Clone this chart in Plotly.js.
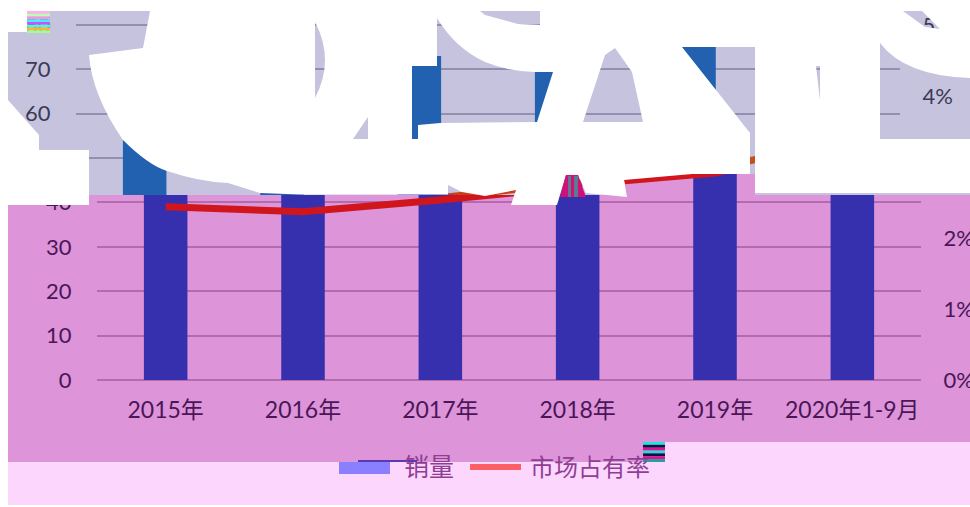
<!DOCTYPE html>
<html><head><meta charset="utf-8">
<script src="https://cdn.plot.ly/plotly-3.0.1.min.js"></script>
<style>html,body{margin:0;padding:0;background:#fff}#c{width:970px;height:507px}</style>
</head><body><div id="c"></div>
<script>
// ---- data ----
var categories = ['2015年','2016年','2017年','2018年','2019年','2020年1-9月'];
var salesValues = [60, 58, 73, 72, 80, 60];          // 销量 (left axis, partly hidden in the reference)
var shareValues = [2.44, 2.37, 2.535, 2.75, 2.915, 3.34]; // 市场占有率, %
var leftTicks = [0,10,20,30,40,50,60,70,80];
var rightTicks = [0,1,2,3,4,5];
var rightTickLabels = ['0%','1%','2%','3%','4%','5%'];
var seriesNames = ['销量','市场占有率'];

// ---- page geometry (pixels in the 970x507 frame) ----
var W=970,H=507,FONT='Lato, "Noto Sans CJK SC", sans-serif';
var L=97,R=921,Y0=380,PXV=4.44,PXP=71,CATW=(R-L)/6;
function fx(p){return p/W} function fy(p){return 1-p/H}
function P(s){return s.replace(/(\d+(?:\.\d+)?),(\d+(?:\.\d+)?)/g,function(m,a,b){return fx(+a).toFixed(5)+','+fy(+b).toFixed(5)})}

// panels of the torn picture: each draws the same arrays through its own axes
var panels=[
 {l:97, r:921,t:195,b:383,shift:0,  bar:'#3730ae',line:'#d0161c',grid:'#b26bac',txt:'#4a1658',ticks:true,xt:true},
 {l:76, r:900,t:11, b:174,shift:-21,bar:'#2260b0',line:'#c4501c',grid:'#938fb0',txt:'#3d3a55',ticks:true},
 {l:76, r:625,t:174,b:195,shift:-21,bar:'#2260b0',line:'#c8401a',grid:'#938fb0',txt:'#3d3a55'},
 {l:625,r:755,t:174,b:195,shift:0,  bar:'#3730ae',line:'#d0161c',grid:'#b26bac',txt:'#4a1658'}
];
var traces=[],layout={width:W,height:H,margin:{l:0,r:0,t:0,b:0,pad:0},showlegend:false,
  paper_bgcolor:'rgba(0,0,0,0)',plot_bgcolor:'rgba(0,0,0,0)',bargap:0.683,font:{family:FONT}};
panels.forEach(function(p,i){
  var xn=i?String(i+1):'', yn=i*2?String(i*2+1):'', y2n=String(i*2+2);
  var xr=[(p.l-L-p.shift)/CATW-0.5,(p.r-L-p.shift)/CATW-0.5];
  traces.push({type:'bar',name:seriesNames[0],x:categories,y:salesValues,marker:{color:p.bar},xaxis:'x'+xn,yaxis:'y'+yn,hoverinfo:'skip'});
  traces.push({type:'scatter',mode:'lines',name:seriesNames[1],x:categories,y:shareValues,line:{color:p.line,width:7},xaxis:'x'+xn,yaxis:'y'+y2n,hoverinfo:'skip'});
  var dom=[fy(p.b),fy(p.t)];
  layout['xaxis'+xn]={domain:[fx(p.l),fx(p.r)],type:'category',categoryorder:'array',categoryarray:categories,range:xr,
    anchor:'y'+yn,showgrid:false,zeroline:false,showline:false,
    showticklabels:!!p.xt,ticks:p.xt?'outside':'',ticklen:6,tickcolor:'rgba(0,0,0,0)',tickfont:{size:23,color:p.txt,family:FONT}};
  layout['yaxis'+yn]={domain:dom,range:[(Y0-p.b)/PXV,(Y0-p.t)/PXV],anchor:'x'+xn,tickmode:'array',tickvals:leftTicks,
    showticklabels:!!p.ticks,showgrid:!!p.ticks,gridcolor:p.grid,gridwidth:2,zeroline:false,showline:false,
    ticks:p.ticks?'outside':'',ticklen:20,tickcolor:'rgba(0,0,0,0)',tickfont:{size:22,color:p.txt,family:FONT}};
  layout['yaxis'+y2n]={domain:dom,range:[(Y0-p.b)/PXP,(Y0-p.t)/PXP],anchor:'x'+xn,overlaying:'y'+yn,side:'right',tickmode:'array',
    tickvals:rightTicks,ticktext:rightTickLabels,showticklabels:!!p.ticks,showgrid:false,zeroline:false,showline:false,
    ticks:p.ticks?'outside':'',ticklen:17,tickcolor:'rgba(0,0,0,0)',tickfont:{size:22,color:p.txt,family:FONT}};
});

// ---- backgrounds, white overprint and damage blocks (decoration, not data) ----
function rect(x0,y0,x1,y1,c,layer){return {type:'rect',xref:'paper',yref:'paper',x0:fx(x0),x1:fx(x1),y0:fy(y0),y1:fy(y1),fillcolor:c,line:{width:0},layer:layer||'above'}}
var shapes=[
 rect(0,0,970,195,'#c5c3dd','below'),
 rect(0,195,970,442,'#dd94d8','below'),
 rect(625,174,755,195,'#dd94d8','below'),
 rect(0,442,664,462,'#dd94d8','below'),
 rect(0,462,970,507,'#fdd6fd','below'),
 rect(664,442,970,462,'#fdd6fd','below')
];
var windows=[
 'M0,0 L970,0 L970,507 L0,507 Z',
 'M27,11 L150,11 L143,48 L89,55 Q92,95 123,140 Q148,165 167,171 Q200,182 228,183 L260,193 L300,194.5 L448,194.5 L448,185 L462,192 L485,196 L516,190 L511,205 L557,205 L566,175 L578,175 L586,193 L627,197 L624,180 L692,174 L750,174 L750,133 L682,47 L755,47 L755,193 L970,193 L970,505 L8,505 L8,205 L89,205 L89,150 L39,150 L39,135 L8,100 L8,32 L27,32 Z',
 'M315,22 Q335,60 315,98 Z',
 'M353,139 L368,117 L368,139 Z',
 'M437,18 Q455,48 485,62 Q510,72 535,72 L553,72 L537,122 L440,123 L418,125 L418,139 L412,139 L412,66 L437,66 Z',
 'M480,11 L540,11 L540,25 L518,24 L485,15 Z',
 'M605,55 L615,48 L632,72 L643,122 L583,122 Z',
 'M880,43 Q905,76 970,78 L970,139 L880,139 Z',
 'M903,11 L922,11 L940,29 L925,27 Z',
 'M816,66 L820,66 L820,100 Z'
];
shapes.push({type:'path',xref:'paper',yref:'paper',path:P(windows.join(' ')),fillcolor:'#ffffff',fillrule:'evenodd',line:{width:0},layer:'above'});
// crimson torn piece over the 2018 column
shapes.push({type:'path',xref:'paper',yref:'paper',path:P('M560,197 L566,175 L578,175 L586,197 Z'),fillcolor:'#d0107a',line:{width:0},layer:'above'});
shapes.push(rect(568,176,571,197,'#5c7a90'));shapes.push(rect(574,176,578,197,'#5c7a90'));
// corrupted blocks
var noiseA=['#ffb0f0','#b8ffb0','#ff90e0','#40f0ff','#d050ff','#40ffe0','#ffb040','#a0ff90'];
noiseA.forEach(function(c,i){shapes.push(rect(27,11+i*2.75,50,13.75+i*2.75,c))});
var noiseB=['#20e0e0','#101040','#e01090','#20e0e0','#101040','#e01090','#20a0a0'];
noiseB.forEach(function(c,i){shapes.push(rect(643,442+i*2.85,665,444.85+i*2.85,c))});
// legend keys
shapes.push(rect(339,462,390,474,'#8a80ff'));
shapes.push(rect(358,460,417,462,'#5a3ab0'));
shapes.push({type:'line',xref:'paper',yref:'paper',x0:fx(470),x1:fx(521),y0:fy(467),y1:fy(467),line:{color:'#fd5f66',width:6}});
layout.shapes=shapes;
layout.annotations=[
 {xref:'paper',yref:'paper',x:fx(429),y:fy(466),xanchor:'center',yanchor:'middle',text:seriesNames[0],showarrow:false,font:{size:25,color:'#8e3f94',family:FONT}},
 {xref:'paper',yref:'paper',x:fx(590),y:fy(466),xanchor:'center',yanchor:'middle',text:seriesNames[1],showarrow:false,font:{size:24,color:'#8e3f94',family:FONT}}
];
Plotly.newPlot('c',traces,layout,{displayModeBar:false,staticPlot:true});
</script></body></html>
